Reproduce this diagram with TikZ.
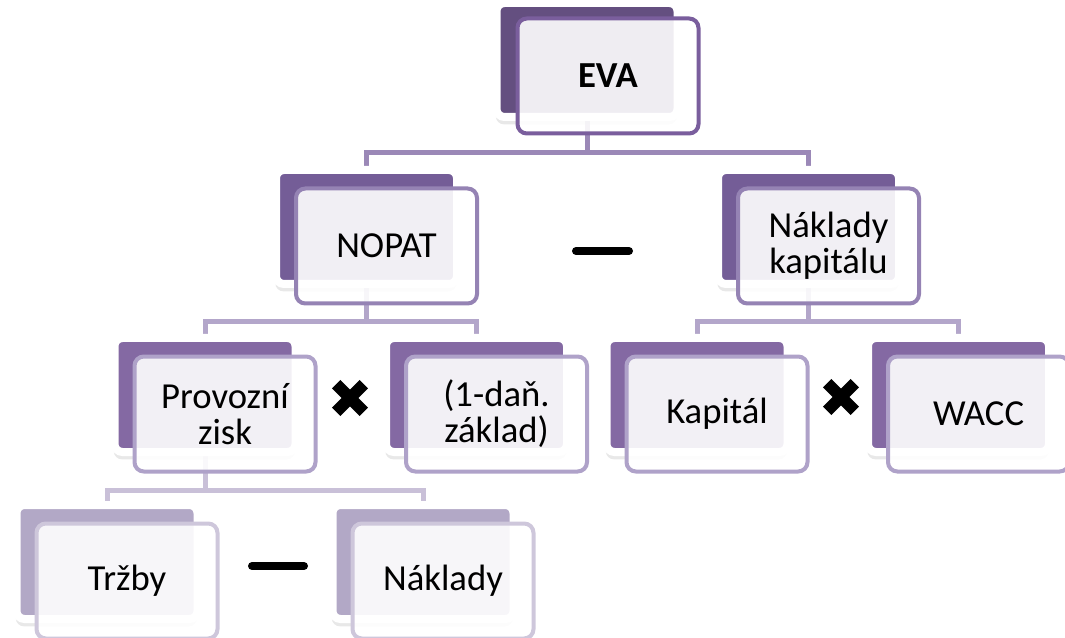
\documentclass[tikz,border=0pt]{standalone}
\usepackage{fontspec}
\setmainfont{Carlito}
\usetikzlibrary{shadows,backgrounds}

\definecolor{dark1}{HTML}{644F80}
\definecolor{dark2}{HTML}{745D97}
\definecolor{dark3}{HTML}{8469A3}
\definecolor{dark4}{HTML}{B2A8C6}
\definecolor{rim1}{HTML}{7A5E9D}
\definecolor{rim2}{HTML}{9583B4}
\definecolor{rim3}{HTML}{AFA2C9}
\definecolor{rim4}{HTML}{CEC7DB}
\definecolor{link1}{HTML}{9B88B7}
\definecolor{link2}{HTML}{B3A6CA}
\definecolor{link3}{HTML}{C9C0D8}

\tikzset{
	backbox/.style={draw=white, line width=6pt, fill=#1, rounded corners=6pt,
		minimum width=135.75pt, minimum height=85.5pt, inner sep=0pt,
		drop shadow={shadow xshift=-0.5pt, shadow yshift=-5.5pt, opacity=0.18}},
	frontbox/.style={draw=#1, line width=3pt, fill=white, fill opacity=0.9, text opacity=1,
		rounded corners=7pt, minimum width=135.75pt, minimum height=86.25pt, inner sep=0pt,
		align=center, font=\fontsize{27.5}{27}\selectfont},
	link/.style={draw=#1, line width=3.75pt},
	minus/.style={line width=6pt, line cap=round},
	times/.style={line width=9pt, line cap=butt},
}

\begin{document}
\begin{tikzpicture}[x=0.75pt,y=-0.75pt]
	\useasboundingbox (0,0) rectangle (1065,638);

	% top
	\node[backbox=dark1] (evaB) at (587,60) {};
	\node[frontbox=rim1, font=\fontsize{27.5}{27}\selectfont\bfseries] (eva) at (608,76) {EVA};

	% second row
	\node[backbox=dark2] (nopatB) at (366.5,227) {};
	\node[frontbox=rim2] (nopat) at (386.5,246) {NOPAT};
	\node[backbox=dark2] (nkapB) at (808.5,227) {};
	\node[frontbox=rim2] (nkap) at (828.5,246) {Náklady\\kapitálu};

	% third row
	\foreach \n/\x/\t in {prov/205/{Provozní\\zisk}, dan/476.5/{(1-daň.\\základ)}, kap/697/{Kapitál}, wacc/958.5/{WACC}}
	{
		\node[backbox=dark3] (\n B) at (\x,395) {};
		\node[frontbox=rim3] (\n) at (\x+20,414) {\t};
	}

	% fourth row
	\node[backbox=dark4] (trzbyB) at (107,562) {};
	\node[frontbox=rim4] (trzby) at (127,581) {Tržby};
	\node[backbox=dark4] (naklB) at (423,562) {};
	\node[frontbox=rim4] (nakl) at (443,581) {Náklady};

	\begin{scope}[on background layer]
		\draw[link=link1] (evaB.center) -- (evaB.center |- 0,153);
		\draw[link=link1] (nopatB.center) -- (nopatB.center |- 0,153) -- (nkapB.center |- 0,153) -- (nkapB.center);
		\draw[link=link2] (nopatB.center) -- (nopatB.center |- 0,322);
		\draw[link=link2] (provB.center) -- (provB.center |- 0,322) -- (danB.center |- 0,322) -- (danB.center);
		\draw[link=link2] (nkapB.center) -- (nkapB.center |- 0,322);
		\draw[link=link2] (kapB.center) -- (kapB.center |- 0,322) -- (waccB.center |- 0,322) -- (waccB.center);
		\draw[link=link3] (provB.center) -- (provB.center |- 0,490);
		\draw[link=link3] (trzbyB.center) -- (trzbyB.center |- 0,490) -- (naklB.center |- 0,490) -- (naklB.center);
	\end{scope}

	% operators
	\draw[minus] (576,251) -- (629,251);
	\draw[minus] (252,566) -- (304,566);
	\foreach \cx/\cy in {350/398, 841/397}
	{
		\draw[times] (\cx-13.8,\cy-13.8) -- (\cx+13.8,\cy+13.8);
		\draw[times] (\cx-13.8,\cy+13.8) -- (\cx+13.8,\cy-13.8);
	}
\end{tikzpicture}
\end{document}
